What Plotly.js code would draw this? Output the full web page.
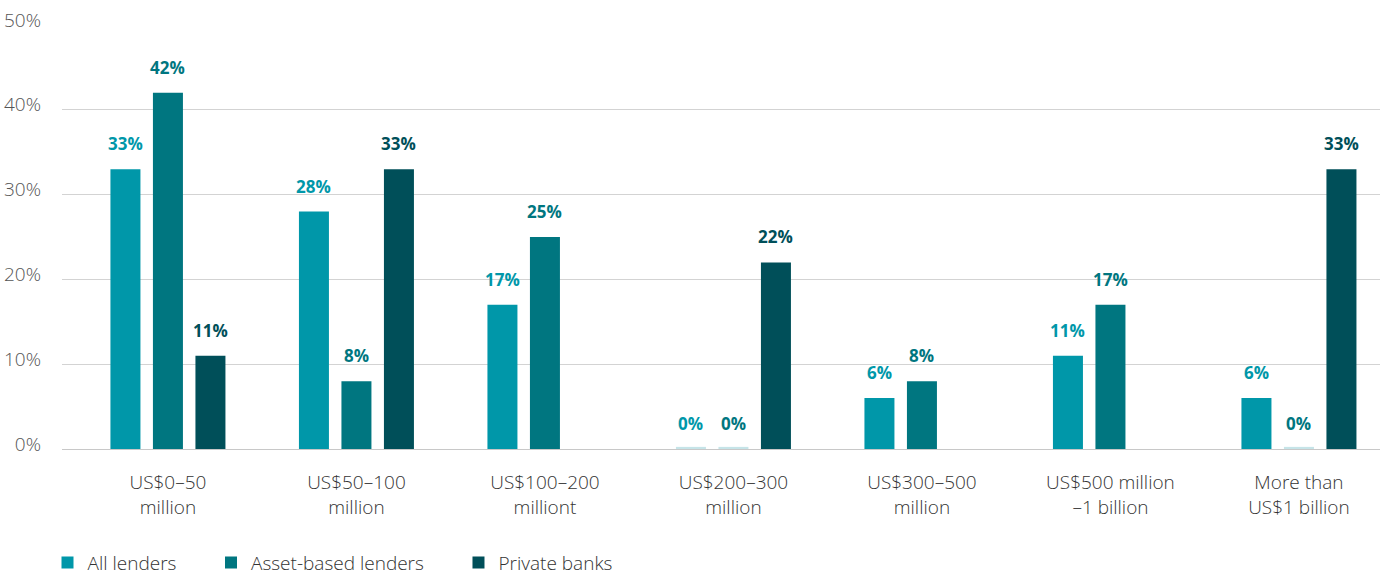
<!DOCTYPE html>
<html>
<head>
<meta charset="utf-8">
<script src="https://cdn.plot.ly/plotly-3.0.1.min.js"></script>
<style>html,body{margin:0;padding:0;background:#fff;}#chart{width:1384px;height:577px;}</style>
</head>
<body>
<div id="chart"></div>
<script>
const categories = ["US$0–50<br>million", "US$50–100<br>million", "US$100–200<br>milliont", "US$200–300<br>million", "US$300–500<br>million", "US$500 million<br>–1 billion", "More than<br>US$1 billion"];
const allLenders = [33, 28, 17, 0, 6, 11, 6];
const assetBased = [42, 8, 25, 0, 8, 17, 0];
const privateBanks = [11, 33, null, 22, null, null, 33];
const seriesNames = ["All lenders", "Asset-based lenders", "Private banks"];
const seriesColors = ["#0097A9", "#007680", "#004F59"];
const zeroColor = "#c6e4e8";

const series = [allLenders, assetBased, privateBanks];
const bargap = 0.3236;
const slot = (1 - bargap) / 3;
const pad = "\u00a0\u00a0\u00a0\u00a0\u00a0\u00a0";

const traces = series.map((vals, i) => ({
  type: "bar",
  name: seriesNames[i] + pad,
  x: categories,
  y: vals.map(v => v === null ? null : (v === 0 ? 0.25 : v)),
  marker: { color: vals.map(v => v === 0 ? zeroColor : seriesColors[i]), line: { width: 0 } },
  hoverinfo: "skip"
}));

const annotations = [];
series.forEach((vals, i) => {
  vals.forEach((v, j) => {
    if (v === null) return;
    annotations.push({
      x: j + (i - 1) * slot, y: v, xref: "x", yref: "y",
      text: v + "%", showarrow: false, yanchor: "bottom", yshift: 12,
      font: { family: "Open Sans", size: 17, weight: 700, color: seriesColors[i] }
    });
  });
});

const layout = {
  width: 1384, height: 577,
  margin: { l: 62, r: 4, t: 25, b: 128, autoexpand: false },
  paper_bgcolor: "#fff", plot_bgcolor: "#fff",
  barmode: "group", bargap: bargap, bargroupgap: 0.294,
  showlegend: true,
  legend: { orientation: "h", x: -0.011, xanchor: "left", y: -0.268, yanchor: "middle",
    font: { family: "Open Sans", size: 19, weight: 300, color: "#333" }, traceorder: "normal" },
  xaxis: { type: "category", range: [-0.562, 6.43], showgrid: false, zeroline: false,
    showline: false, ticks: "", ticklabelstandoff: 20,
    tickfont: { family: "Open Sans", size: 19, weight: 300, color: "#333" } },
  yaxis: { range: [0, 50], dtick: 10, tick0: 0, ticksuffix: "%", showgrid: true,
    gridcolor: "#d3d3d3", gridwidth: 1, zeroline: true, zerolinecolor: "#c8c8c8", zerolinewidth: 1,
    showline: false, ticks: "", ticklabelstandoff: 20, ticklabelshift: -5,
    tickfont: { family: "Open Sans", size: 19, weight: 300, color: "#555" } },
  annotations: annotations
};

Plotly.newPlot("chart", traces, layout, { displayModeBar: false, staticPlot: true });
</script>
</body>
</html>
